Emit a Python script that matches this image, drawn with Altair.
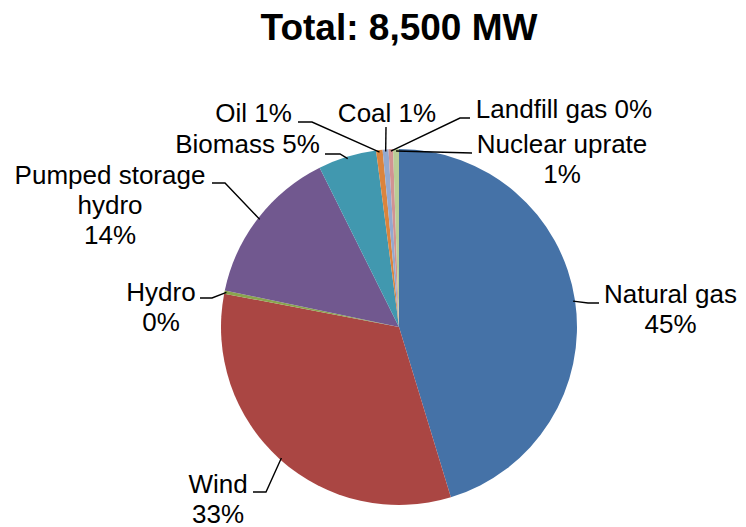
import altair as alt
import pandas as pd
import numpy as np

# ---- data ----
sources = ["Natural gas", "Wind", "Hydro", "Pumped storage hydro", "Biomass",
           "Oil", "Coal", "Landfill gas", "Nuclear uprate"]
capacity_mw = [3850, 2780, 25, 1220, 450, 50, 45, 35, 45]
label_names = ["Natural gas", "Wind", "Hydro", "Pumped storage\nhydro", "Biomass",
               "Oil", "Coal", "Landfill gas", "Nuclear uprate"]
label_seps = ["\n", "\n", "\n", "\n", " ", " ", " ", " ", "\n"]

# ---- styles ----
colors = ["#4572A7", "#AA4643", "#89A54E", "#71588F", "#4198AF",
          "#DB843D", "#93A9CF", "#D19392", "#B9CD96"]
FONT = "Liberation Sans"
W, H = 730, 519
CX, CY, R = 391, 319, 178

# label layout: text centre x, first baseline y, leader bend point, leader end point
label_layout = {
    "Natural gas":          dict(tx=662.5, ty=295, bend=(580, 295), end=(591, 295)),
    "Wind":                 dict(tx=210,   ty=485, bend=(258, 484), end=(245, 484)),
    "Hydro":                dict(tx=153,   ty=293, bend=(204, 290), end=(192, 290)),
    "Pumped storage hydro": dict(tx=102,   ty=176, bend=(217, 175), end=(204, 175)),
    "Biomass":              dict(tx=239.5, ty=145, bend=(332, 146), end=(317, 146)),
    "Oil":                  dict(tx=245.5, ty=114, bend=(304, 114), end=(290, 114)),
    "Coal":                 dict(tx=379,   ty=114, bend=(378, 119), end=(378, 119)),
    "Landfill gas":         dict(tx=556,   ty=110, bend=(452, 110), end=(462, 110)),
    "Nuclear uprate":       dict(tx=554,   ty=145, bend=(464, 145), end=(464, 145)),
}

df = pd.DataFrame({"source": sources, "mw": capacity_mw, "idx": range(len(sources))})
total = int(df["mw"].sum())
df["pct"] = np.rint(df["mw"] / total * 100).astype(int)
df["label"] = [f"{n}{s}{p}%" for n, s, p in zip(label_names, label_seps, df["pct"])]
df["tx"] = [label_layout[s]["tx"] for s in sources]
df["ty"] = [label_layout[s]["ty"] for s in sources]

# leader lines: start at slice mid-angle on the rim
cum = df["mw"].cumsum() - df["mw"] / 2
mid = cum / total * 2 * np.pi
rows = []
for s, a in zip(sources, mid):
    lay = label_layout[s]
    rows.append(dict(source=s, pt=0, x=CX + (R - 2) * np.sin(a), y=CY - (R - 2) * np.cos(a)))
    rows.append(dict(source=s, pt=1, x=lay["bend"][0], y=lay["bend"][1]))
    rows.append(dict(source=s, pt=2, x=lay["end"][0], y=lay["end"][1]))
line_df = pd.DataFrame(rows)

xs = alt.Scale(domain=[0, W], nice=False, zero=False)
ys = alt.Scale(domain=[0, H], nice=False, zero=False, reverse=True)

pie = alt.Chart(df).mark_arc(outerRadius=R).encode(
    theta=alt.Theta("mw:Q", stack=True),
    color=alt.Color("source:N", scale=alt.Scale(domain=sources, range=colors), legend=None),
    order=alt.Order("idx:Q"),
    x=alt.value(CX),
    y=alt.value(CY),
)

lines = alt.Chart(line_df).mark_line(color="black", strokeWidth=1.4).encode(
    x=alt.X("x:Q", scale=xs, axis=None),
    y=alt.Y("y:Q", scale=ys, axis=None),
    detail="source:N",
    order="pt:Q",
)

labels = alt.Chart(df).mark_text(
    align="center", baseline="alphabetic", fontSize=26, font=FONT,
    lineHeight=30, lineBreak="\n", color="black"
).encode(
    x=alt.X("tx:Q", scale=xs, axis=None),
    y=alt.Y("ty:Q", scale=ys, axis=None),
    text="label:N",
)

title_df = pd.DataFrame({"t": [f"Total: {total:,} MW"]})
title = alt.Chart(title_df).mark_text(
    align="center", baseline="alphabetic", fontSize=37, fontWeight="bold",
    font=FONT, color="black"
).encode(x=alt.value(391), y=alt.value(32), text="t:N")

chart = alt.layer(pie, lines, labels, title).properties(
    width=W, height=H, padding=0, autosize="none"
).configure_view(stroke=None)

chart.save("out.html", embed_options={"renderer": "svg", "actions": False})
